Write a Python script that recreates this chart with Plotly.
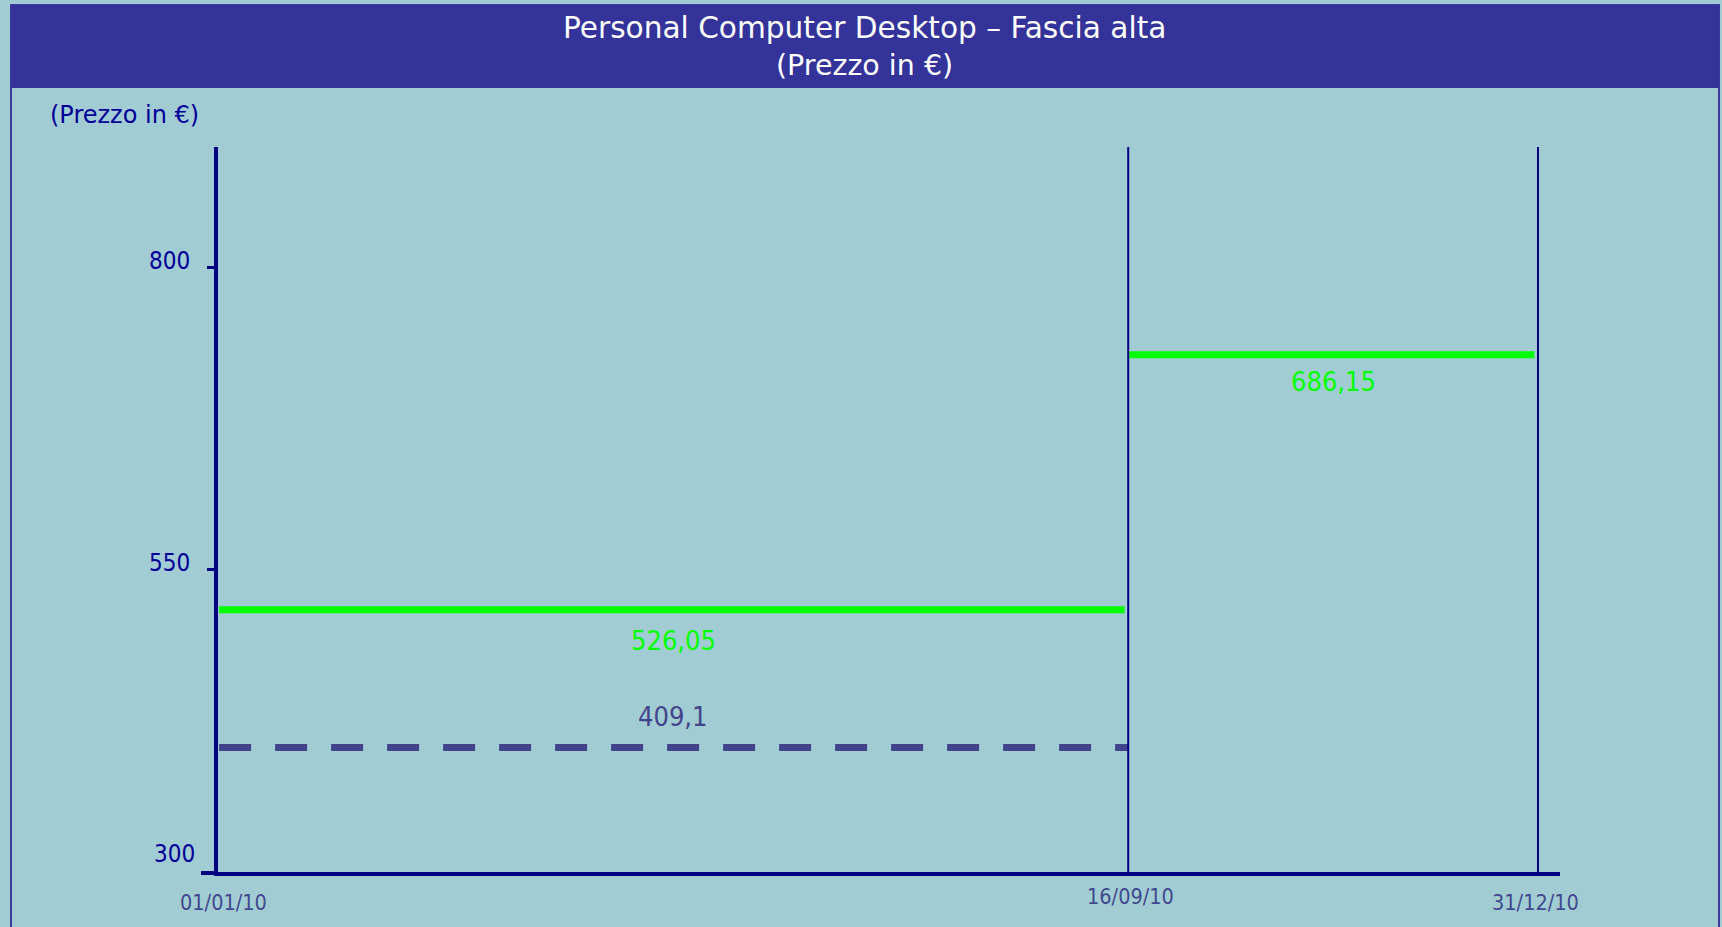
import plotly.graph_objects as go

# ---- data ----
date_labels = ["01/01/10", "16/09/10", "31/12/10"]
date_pos = [0, 251, 364]            # position along the year (days, as drawn)
y_tick_vals = [300, 550, 800]
y_tick_text = ["300", "550", "800"]

high_levels = [517, 728]            # drawn level of the high-end price, per period
high_labels = ["526,05", "686,15"]
base_level = [403]                  # dashed reference level (first period)
base_labels = ["409,1"]

title_line1 = "Personal Computer Desktop – Fascia alta"
title_line2 = "(Prezzo in €)"
y_title = "(Prezzo in €)"

# ---- styling ----
W, H = 1722, 927
L, R, T, B = 218, 1560, 147, 872
BG = "#A2CCD3"
NAVY = "#000080"
BAR = "#333399"
GREEN = "#00FF00"
DASH = "#41448A"
LABEL_DATE = "#3F4A8C"
SANS = "DejaVu Sans, Verdana, sans-serif"
COND = "DejaVu Sans Condensed, DejaVu Sans, sans-serif"

def pxx(p):
    return (p - L) / (R - L)

def pxy(p):
    return (B - p) / (B - T)

fig = go.Figure()

# period high-end price lines
periods = list(zip(date_pos[:-1], date_pos[1:]))
for (x0, x1), lvl in zip(periods, high_levels):
    fig.add_trace(go.Scatter(x=[x0 + 0.3, x1 - 1], y=[lvl, lvl], mode="lines",
                             line=dict(color=GREEN, width=7), hoverinfo="skip"))

# dashed reference
fig.add_trace(go.Scatter(x=[date_pos[0] + 0.3, date_pos[1]], y=[base_level[0]] * 2, mode="lines",
                         line=dict(color=DASH, width=7, dash="32px,24px"), hoverinfo="skip"))

# vertical period separators
for xv, top in zip(date_pos[1:], [900, 903]):
    fig.add_trace(go.Scatter(x=[xv, xv], y=[300, top], mode="lines",
                             line=dict(color=NAVY, width=2), hoverinfo="skip"))

annotations = []
# value labels
for (x0, x1), lvl, txt, dy in zip(periods, high_levels, high_labels, [-31, -27]):
    annotations.append(dict(x=(x0 + x1) / 2, y=lvl, xref="x", yref="y", text=txt,
                            showarrow=False, yshift=dy,
                            font=dict(family=COND, size=27, color=GREEN)))
annotations.append(dict(x=(date_pos[0] + date_pos[1]) / 2, y=base_level[0], xref="x", yref="y",
                        text=base_labels[0], showarrow=False, yshift=31,
                        font=dict(family=COND, size=27, color=DASH)))

# date labels
for xv, txt, dy, dx in zip(date_pos, date_labels, [30, 24, 30], [5, 2, -2]):
    annotations.append(dict(x=xv, y=300, xref="x", yref="y", text=txt, showarrow=False,
                            yshift=-dy, xshift=dx,
                            font=dict(family=COND, size=21.5, color=LABEL_DATE)))

# y tick labels
for v, txt, right, dy in zip(y_tick_vals, y_tick_text, [197, 192, 192], [18, 7, 7]):
    annotations.append(dict(x=pxx(right), y=v, xref="paper", yref="y", text=txt, showarrow=False,
                            xanchor="right", yshift=dy,
                            font=dict(family=COND, size=24, color="#000099")))

# y-axis title
annotations.append(dict(x=pxx(48), y=pxy(115), xref="paper", yref="paper", text=y_title,
                        showarrow=False, xanchor="left", yanchor="middle",
                        font=dict(family=SANS, size=24, color="#000099")))

# title
annotations.append(dict(x=pxx(864), y=pxy(28), xref="paper", yref="paper", text=title_line1,
                        showarrow=False, xanchor="center", yanchor="middle",
                        font=dict(family=SANS, size=29.6, color="white")))
annotations.append(dict(x=pxx(864), y=pxy(66), xref="paper", yref="paper", text=title_line2,
                        showarrow=False, xanchor="center", yanchor="middle",
                        font=dict(family=SANS, size=28.5, color="white")))

shapes = [
    # outer frame
    dict(type="rect", xref="paper", yref="paper", x0=pxx(11), x1=pxx(1719), y0=pxy(5), y1=pxy(935),
         line=dict(color="#3B3B9B", width=2), fillcolor="rgba(0,0,0,0)", layer="below"),
    # title bar
    dict(type="rect", xref="paper", yref="paper", x0=pxx(11), x1=pxx(1719), y0=pxy(5), y1=pxy(88),
         line=dict(width=0), fillcolor=BAR, layer="below"),
    # x-axis extension to the left of the y axis
    dict(type="line", xref="paper", yref="paper", x0=pxx(201), x1=pxx(218), y0=pxy(873), y1=pxy(873),
         line=dict(color=NAVY, width=4)),
]

fig.update_layout(
    width=W, height=H,
    margin=dict(l=L, r=W - R, t=T, b=H - B, pad=0),
    paper_bgcolor=BG, plot_bgcolor=BG,
    showlegend=False,
    annotations=annotations,
    shapes=shapes,
    xaxis=dict(range=[0, 370.07], showgrid=False, zeroline=False, showticklabels=False, ticks="",
               showline=True, linecolor=NAVY, linewidth=4, fixedrange=True),
    yaxis=dict(range=[300, 900], showgrid=False, zeroline=False, showticklabels=False,
               tickvals=y_tick_vals[1:], ticks="outside", ticklen=7, tickwidth=3, tickcolor=NAVY,
               showline=True, linecolor=NAVY, linewidth=4, fixedrange=True),
)

fig.write_html("out.html", config={"displayModeBar": False},
               post_script="document.body.style.margin='0';document.body.style.overflow='hidden';")
